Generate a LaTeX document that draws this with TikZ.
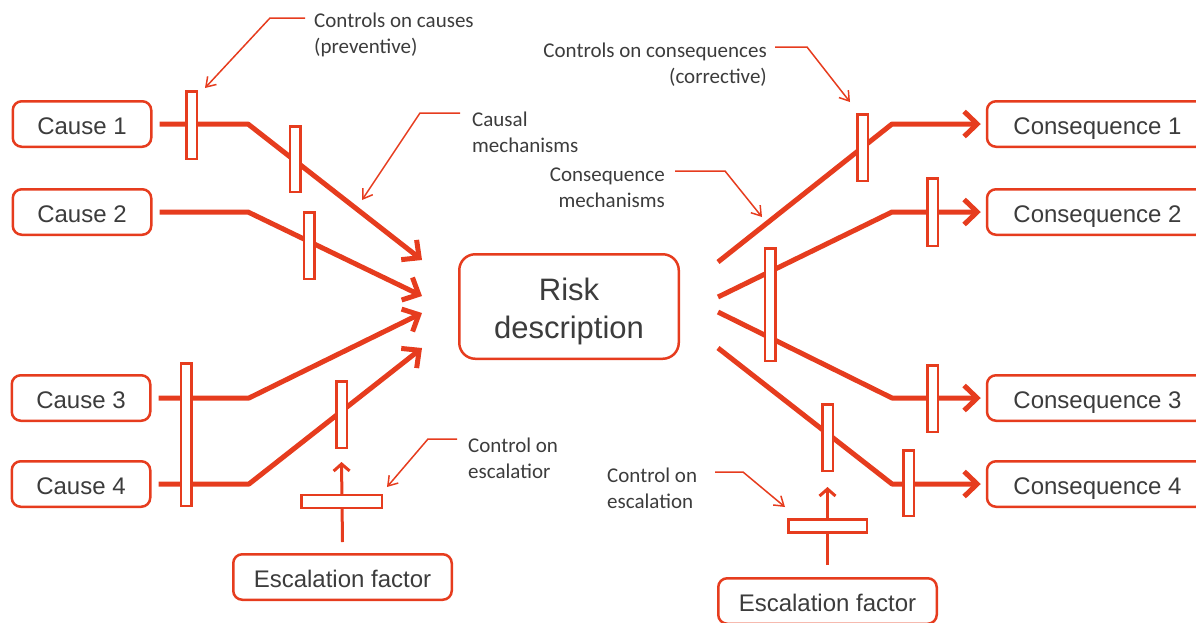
\documentclass[tikz,border=0pt]{standalone}
\usepackage{fontspec}
\setmainfont{Liberation Sans}
\newfontfamily\labfont{Carlito}
\usetikzlibrary{arrows.meta}
\definecolor{rred}{HTML}{E63C1E}
\definecolor{tgray}{HTML}{3C3C3C}
\begin{document}
\begin{tikzpicture}[x=1pt,y=-1pt,
  box/.style={draw=rred, line width=2.5pt, rounded corners=9pt, fill=white, text=tgray,
    font=\fontsize{24}{28}\selectfont, minimum height=45.5pt, inner sep=0pt,
    text height=21pt, text depth=0pt},
  bigbox/.style={draw=rred, line width=2.5pt, rounded corners=16pt, fill=white, inner sep=0pt},
  bigtext/.style={text=tgray, font=\fontsize{31}{38}\selectfont, align=center, inner sep=0pt},
  bar/.style={draw=rred, line width=2.5pt, fill=white, inner sep=0pt, minimum width=10.5pt},
  hbar/.style={draw=rred, line width=2.5pt, fill=white, inner sep=0pt, minimum height=13pt},
  flow/.style={draw=rred, line width=5pt, line join=round},
  flowarrow/.style={flow, -{Straight Barb[length=13pt,width=25pt]}},
  esc/.style={draw=rred, line width=3pt, -{Straight Barb[length=7pt,width=16pt]}},
  leader/.style={draw=rred, line width=1.5pt, -{Straight Barb[length=9pt,width=12pt]}},
  lab/.style={text=tgray, font=\labfont\fontsize{21}{26}\selectfont, inner sep=0pt},
]
\useasboundingbox (0,0) rectangle (1196,622);
\clip (0,0) rectangle (1196,622);

% boxes
\node[box, minimum width=138.5pt] (c1) at (82,124) {Cause 1};
\node[box, minimum width=138.5pt] (c2) at (82,212) {Cause 2};
\node[box, minimum width=138.5pt] (c3) at (81,398) {Cause 3};
\node[box, minimum width=138.5pt] (c4) at (81,484) {Cause 4};
\node[bigbox, minimum width=219.5pt, minimum height=104.5pt] (risk) at (569,306.5) {};
\node[bigtext] (risktext) at (569,311) {Risk\\description};
\node[box, minimum width=218pt] (q1) at (1096,124) {\hspace*{3pt}Consequence 1};
\node[box, minimum width=218pt] (q2) at (1096,212) {\hspace*{3pt}Consequence 2};
\node[box, minimum width=218pt] (q3) at (1096,398) {\hspace*{3pt}Consequence 3};
\node[box, minimum width=218pt] (q4) at (1096,484) {\hspace*{3pt}Consequence 4};
\node[box, minimum width=218.5pt] (e1) at (342.5,577) {Escalation factor};
\node[box, minimum width=218.5pt] (e2) at (827.5,601) {Escalation factor};

% coordinates
\coordinate (cb1) at (248,124);
\coordinate (cb2) at (248,212);
\coordinate (cb3) at (249,398);
\coordinate (cb4) at (249,484);
\coordinate (t1) at (422,260);
\coordinate (t2) at (422,296);
\coordinate (t3) at (422,313);
\coordinate (t4) at (422,348);
\coordinate (s1) at (718,262);
\coordinate (s2) at (718,297);
\coordinate (s3) at (718,312);
\coordinate (s4) at (718,348);
\coordinate (qb1) at (892,124);
\coordinate (qb2) at (892,212);
\coordinate (qb3) at (892,398);
\coordinate (qb4) at (892,484);
\coordinate (et1) at (341.5,462);
\coordinate (et2) at (827.5,487);

% flows
\draw[flowarrow] ([xshift=7pt]c1.east) -- (cb1) -- (t1);
\draw[flowarrow] ([xshift=7pt]c2.east) -- (cb2) -- (t2);
\draw[flowarrow] ([xshift=7pt]c3.east) -- (cb3) -- (t3);
\draw[flowarrow] ([xshift=7pt]c4.east) -- (cb4) -- (t4);
\draw[flowarrow] (s1) -- (qb1) -- ([xshift=-5pt]q1.west);
\draw[flowarrow] (s2) -- (qb2) -- ([xshift=-5pt]q2.west);
\draw[flowarrow] (s3) -- (qb3) -- ([xshift=-5pt]q3.west);
\draw[flowarrow] (s4) -- (qb4) -- ([xshift=-5pt]q4.west);

% escalation arrows
\draw[esc] ([yshift=11pt]e1.north) -- (et1);
\draw[esc] ([yshift=12pt]e2.north) -- (et2);

% barriers
\node[bar, minimum height=67.5pt] (b1) at (191.5,125) {};
\node[bar, minimum height=65.5pt] (b2) at (295,159) {};
\node[bar, minimum height=66.5pt] (b3) at (309,245.5) {};
\node[bar, minimum height=142.5pt] (b4) at (186,434.5) {};
\node[bar, minimum height=66.5pt] (b5) at (341.5,414.5) {};
\node[hbar, minimum width=80.5pt] (eb1) at (341.5,501.5) {};
\node[bar, minimum height=66.5pt] (r1) at (862.5,147.5) {};
\node[bar, minimum height=67.5pt] (r2) at (932.5,212) {};
\node[bar, minimum height=112.5pt] (r3) at (770,304.5) {};
\node[bar, minimum height=66.5pt] (r4) at (932.5,398.5) {};
\node[bar, minimum height=65.5pt] (r5) at (908.5,483) {};
\node[bar, minimum height=66.5pt] (r6) at (827.5,437.5) {};
\node[hbar, minimum width=78.5pt] (eb2) at (827.5,526) {};

% labels
\node[lab, align=left, anchor=west] (L1) at (314,35) {Controls on causes\\(preventive)};
\node[lab, align=left, anchor=west] (L2) at (472,132) {Causal\\mechanisms};
\node[lab, align=right, anchor=east] (L3) at (767,65) {Controls on consequences\\(corrective)};
\node[lab, align=right, anchor=east] (L4) at (665,188) {Consequence\\mechanisms};
\node[lab, align=left, anchor=west] (L5) at (468,458) {Control on\\escalatior};
\node[lab, align=left, anchor=west] (L6) at (607,488) {Control on\\escalation};

% leaders
\coordinate (a1) at (305,18);  \coordinate (a1b) at (270,18);  \coordinate (a1t) at (205,88);
\coordinate (a2) at (460,113); \coordinate (a2b) at (420,113); \coordinate (a2t) at (362,200);
\coordinate (a3) at (775,47);  \coordinate (a3b) at (807,47);  \coordinate (a3t) at (850,102);
\coordinate (a4) at (675,171); \coordinate (a4b) at (725,171); \coordinate (a4t) at (762,217);
\coordinate (a5) at (457,439); \coordinate (a5b) at (428,439); \coordinate (a5t) at (387,487);
\coordinate (a6) at (715,472); \coordinate (a6b) at (743,472); \coordinate (a6t) at (785,507);
\draw[leader] (a1) -- (a1b) -- (a1t);
\draw[leader] (a2) -- (a2b) -- (a2t);
\draw[leader] (a3) -- (a3b) -- (a3t);
\draw[leader] (a4) -- (a4b) -- (a4t);
\draw[leader] (a5) -- (a5b) -- (a5t);
\draw[leader] (a6) -- (a6b) -- (a6t);
\end{tikzpicture}
\end{document}
